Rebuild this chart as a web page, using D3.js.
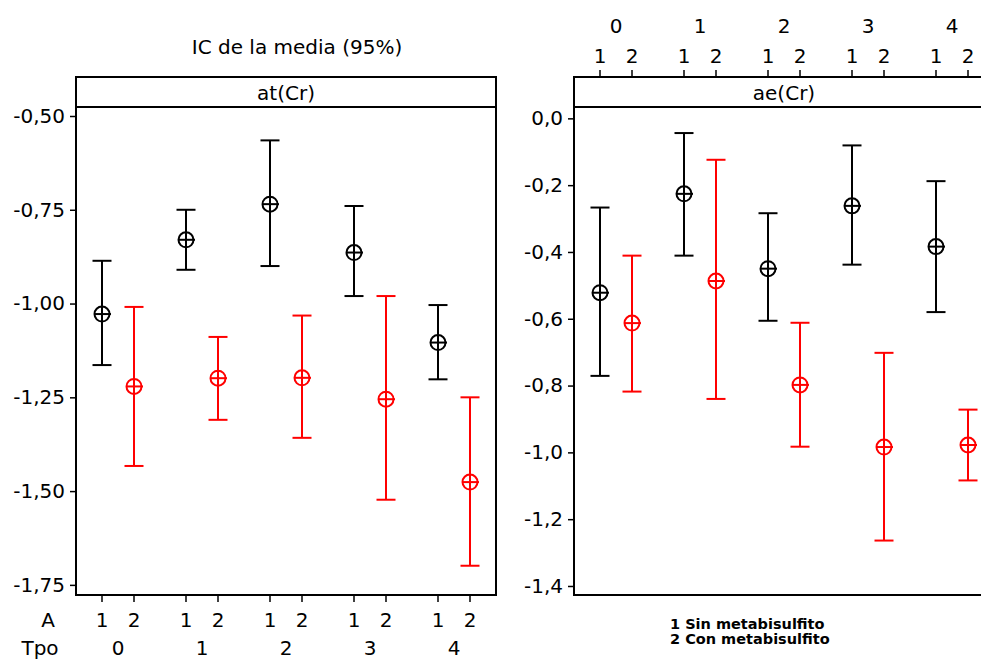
<!DOCTYPE html>
<html>
<head>
<meta charset="utf-8">
<script src="https://cdn.jsdelivr.net/npm/d3@7"></script>
<style>
  body { margin: 0; background: #fff; }
  svg { display: block; font-family: "DejaVu Sans", sans-serif; }
</style>
</head>
<body>
<svg width="981" height="659"></svg>
<script>
// grouping levels
const tpoLevels = ["0", "1", "2", "3", "4"];
const aLevels = ["1", "2"];
const aColors = ["#000000", "#ff0000"];
const legendLines = ["1 Sin metabisulfito", "2 Con metabisulfito"];

// at(Cr): mean and 95% CI per Tpo, for A = 1 and A = 2
const atMeanA1 = [-1.028, -0.830, -0.735, -0.864, -1.104];
const atLowA1  = [-1.164, -0.910, -0.900, -0.980, -1.202];
const atHighA1 = [-0.886, -0.750, -0.565, -0.740, -1.004];
const atMeanA2 = [-1.221, -1.199, -1.198, -1.255, -1.476];
const atLowA2  = [-1.433, -1.310, -1.358, -1.523, -1.699];
const atHighA2 = [-1.009, -1.089, -1.032, -0.980, -1.250];

// ae(Cr)
const aeMeanA1 = [-0.522, -0.226, -0.450, -0.262, -0.384];
const aeLowA1  = [-0.771, -0.411, -0.606, -0.438, -0.580];
const aeHighA1 = [-0.267, -0.044, -0.284, -0.081, -0.188];
const aeMeanA2 = [-0.613, -0.487, -0.798, -0.984, -0.978];
const aeLowA2  = [-0.818, -0.840, -0.983, -1.264, -1.084];
const aeHighA2 = [-0.411, -0.124, -0.612, -0.702, -0.872];

const atTicks = [-0.5, -0.75, -1.0, -1.25, -1.5, -1.75];
const aeTicks = [0, -0.2, -0.4, -0.6, -0.8, -1.0, -1.2, -1.4];

const PANEL_W = 420;
const STRIP_TOP = 77;
const PLOT_TOP = 107;
const PLOT_BOTTOM = 595;
const FONT = 20;

const locale = d3.formatLocale({ decimal: ",", thousands: ".", grouping: [3], currency: ["", ""], minus: "-" });

function rows(means, lows, highs, a) {
  return tpoLevels.map((t, i) => ({ tpo: t, a: a, mean: means[i], lo: lows[i], hi: highs[i] }));
}

const panels = [
  {
    name: "at(Cr)", x0: 76, domain: [-1.777, -0.476], ticks: atTicks, fmt: locale.format(".2f"),
    data: rows(atMeanA1, atLowA1, atHighA1, "1").concat(rows(atMeanA2, atLowA2, atHighA2, "2")),
    axisBottom: true
  },
  {
    name: "ae(Cr)", x0: 574, domain: [-1.427, 0.034], ticks: aeTicks, fmt: locale.format(".1f"),
    data: rows(aeMeanA1, aeLowA1, aeHighA1, "1").concat(rows(aeMeanA2, aeLowA2, aeHighA2, "2")),
    axisBottom: false
  }
];

const svg = d3.select("svg");

// title
svg.append("text")
  .attr("x", 297).attr("y", 54)
  .attr("text-anchor", "middle")
  .style("font-size", FONT + "px")
  .text("IC de la media (95%)");

panels.forEach(p => drawPanel(p));

function drawPanel(p) {
  const g = svg.append("g");
  const xBand = d3.scaleBand().domain(tpoLevels).range([p.x0, p.x0 + PANEL_W]);
  const xInner = d3.scalePoint().domain(aLevels).range([0, xBand.bandwidth()]).padding(0.8125);
  const xPos = (t, a) => xBand(t) + xInner(a);
  const y = d3.scaleLinear().domain(p.domain).range([PLOT_BOTTOM, PLOT_TOP]);

  // y axis
  const yAxis = d3.axisLeft(y).tickValues(p.ticks).tickFormat(p.fmt).tickSize(6).tickPadding(5);
  const ya = g.append("g").attr("transform", `translate(${p.x0},0)`).call(yAxis);
  ya.select(".domain").remove();
  ya.selectAll("line").attr("stroke", "#000").attr("stroke-width", 1.5);
  ya.selectAll("text").style("font-size", FONT + "px").attr("font-family", "DejaVu Sans").attr("fill", "#000");

  // strip and frame
  g.append("rect")
    .attr("x", p.x0).attr("y", STRIP_TOP)
    .attr("width", PANEL_W).attr("height", PLOT_TOP - STRIP_TOP)
    .attr("fill", "none").attr("stroke", "#000").attr("stroke-width", 2);
  g.append("rect")
    .attr("x", p.x0).attr("y", PLOT_TOP)
    .attr("width", PANEL_W).attr("height", PLOT_BOTTOM - PLOT_TOP)
    .attr("fill", "none").attr("stroke", "#000").attr("stroke-width", 2);
  g.append("text")
    .attr("x", p.x0 + PANEL_W / 2).attr("y", PLOT_TOP - 7)
    .attr("text-anchor", "middle")
    .style("font-size", FONT + "px")
    .text(p.name);

  // x ticks (A inside Tpo)
  const combos = [];
  tpoLevels.forEach(t => aLevels.forEach(a => combos.push({ tpo: t, a: a })));
  const xg = g.append("g");
  if (p.axisBottom) {
    xg.selectAll("line").data(combos).enter().append("line")
      .attr("x1", d => xPos(d.tpo, d.a)).attr("x2", d => xPos(d.tpo, d.a))
      .attr("y1", PLOT_BOTTOM).attr("y2", PLOT_BOTTOM + 7)
      .attr("stroke", "#000").attr("stroke-width", 1.5);
    xg.selectAll("text.a").data(combos).enter().append("text")
      .attr("x", d => xPos(d.tpo, d.a)).attr("y", 627)
      .attr("text-anchor", "middle").style("font-size", FONT + "px")
      .text(d => d.a);
    xg.selectAll("text.t").data(tpoLevels).enter().append("text")
      .attr("x", d => xBand(d) + xBand.bandwidth() / 2).attr("y", 655)
      .attr("text-anchor", "middle").style("font-size", FONT + "px")
      .text(d => d);
    xg.append("text").attr("x", 48).attr("y", 627).attr("text-anchor", "middle")
      .style("font-size", FONT + "px").text("A");
    xg.append("text").attr("x", 40).attr("y", 655).attr("text-anchor", "middle")
      .style("font-size", FONT + "px").text("Tpo");
  } else {
    xg.selectAll("line").data(combos).enter().append("line")
      .attr("x1", d => xPos(d.tpo, d.a)).attr("x2", d => xPos(d.tpo, d.a))
      .attr("y1", STRIP_TOP).attr("y2", STRIP_TOP - 7)
      .attr("stroke", "#000").attr("stroke-width", 1.5);
    xg.selectAll("text.a").data(combos).enter().append("text")
      .attr("x", d => xPos(d.tpo, d.a)).attr("y", 63)
      .attr("text-anchor", "middle").style("font-size", FONT + "px")
      .text(d => d.a);
    xg.selectAll("text.t").data(tpoLevels).enter().append("text")
      .attr("x", d => xBand(d) + xBand.bandwidth() / 2).attr("y", 33)
      .attr("text-anchor", "middle").style("font-size", FONT + "px")
      .text(d => d);
  }

  // error bars
  const cap = 9.5, r = 7.5;
  const color = d => aColors[aLevels.indexOf(d.a)];
  const bars = g.append("g").selectAll("g").data(p.data).enter().append("g")
    .attr("stroke", color).attr("stroke-width", 2).attr("fill", "none");
  bars.append("line")
    .attr("x1", d => xPos(d.tpo, d.a)).attr("x2", d => xPos(d.tpo, d.a))
    .attr("y1", d => y(d.lo)).attr("y2", d => y(d.hi));
  bars.append("line")
    .attr("x1", d => xPos(d.tpo, d.a) - cap).attr("x2", d => xPos(d.tpo, d.a) + cap)
    .attr("y1", d => y(d.hi)).attr("y2", d => y(d.hi));
  bars.append("line")
    .attr("x1", d => xPos(d.tpo, d.a) - cap).attr("x2", d => xPos(d.tpo, d.a) + cap)
    .attr("y1", d => y(d.lo)).attr("y2", d => y(d.lo));
  bars.append("circle")
    .attr("cx", d => xPos(d.tpo, d.a)).attr("cy", d => y(d.mean)).attr("r", r)
    .attr("fill", "#fff");
  bars.append("line")
    .attr("x1", d => xPos(d.tpo, d.a) - r).attr("x2", d => xPos(d.tpo, d.a) + r + 1.5)
    .attr("y1", d => y(d.mean)).attr("y2", d => y(d.mean));
  bars.append("line")
    .attr("x1", d => xPos(d.tpo, d.a)).attr("x2", d => xPos(d.tpo, d.a))
    .attr("y1", d => y(d.mean) - r).attr("y2", d => y(d.mean) + r);
}

// legend
svg.append("g").selectAll("text").data(legendLines).enter().append("text")
  .attr("x", 670).attr("y", (d, i) => 629 + i * 15)
  .style("font-size", "14.5px").style("font-weight", "bold")
  .text(d => d);
</script>
</body>
</html>
